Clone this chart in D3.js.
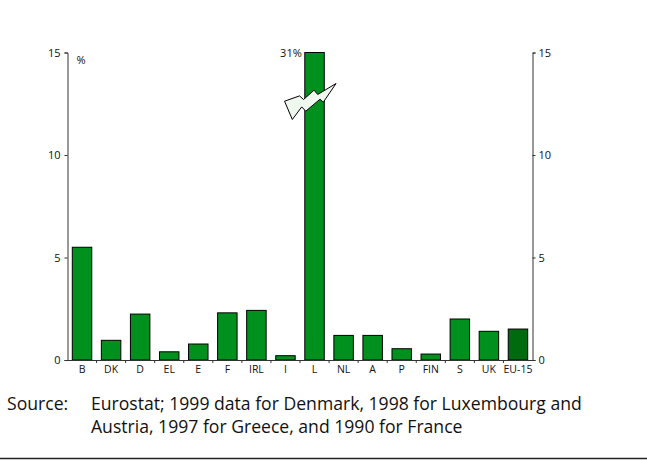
<!DOCTYPE html>
<html><head><meta charset="utf-8">
<script src="https://cdn.jsdelivr.net/npm/d3@7"></script>
<style>body{margin:0;background:#fff}svg{display:block}text{font-family:"Open Sans","Noto Sans",sans-serif;fill:#111}</style>
</head><body><svg id="c" width="647" height="460"></svg>
<script>
const categories = ["B","DK","D","EL","E","F","IRL","I","L","NL","A","P","FIN","S","UK","EU-15"];
const values = [5.5,0.96,2.24,0.4,0.78,2.3,2.42,0.21,31,1.2,1.2,0.55,0.29,2.0,1.4,1.51];
const yTicks = [0,5,10,15];
const yMax = 15;

(function(){
const svg = d3.select("#c");
const mL = 67.5, mR = 532.5, mT = 52.5, mB = 360;
const x = d3.scaleBand().domain(categories).range([mL,mR]).paddingInner(0.33).paddingOuter(0.165);
const y = d3.scaleLinear().domain([0,yMax]).range([mB,mT]);

svg.append("g").selectAll("rect").data(categories).join("rect")
  .attr("x",d=>x(d)).attr("width",x.bandwidth())
  .attr("y",(d,i)=>y(Math.min(values[i],yMax)))
  .attr("height",(d,i)=>mB-y(Math.min(values[i],yMax)))
  .attr("fill",d=>d==="EU-15"?"#006a0e":"#00901e")
  .attr("stroke","#000").attr("stroke-width",1);

const yl = d3.axisLeft(y).tickValues(yTicks).tickSize(3).tickPadding(4);
const yr = d3.axisRight(y).tickValues(yTicks).tickSize(3).tickPadding(3);
const xb = d3.axisBottom(x).tickSize(0).tickPadding(6);
const gl = svg.append("g").attr("transform",`translate(${mL},0)`).call(yl);
const gr = svg.append("g").attr("transform",`translate(${mR},0)`).call(yr);
const gb = svg.append("g").attr("transform",`translate(0,${mB})`).call(xb);
[gl,gr,gb].forEach(g=>{g.selectAll("text").attr("font-size",11).attr("font-family",null);g.selectAll("path,line").attr("stroke","#333");});
gb.selectAll("text").attr("font-size",10.5);
gb.append("g").selectAll("line").data(categories.slice(1)).join("line")
  .attr("x1",d=>x(d)-x.step()*x.paddingInner()/2).attr("x2",d=>x(d)-x.step()*x.paddingInner()/2)
  .attr("y1",0).attr("y2",3).attr("stroke","#333");

svg.append("text").attr("x",mL+9).attr("y",y(15)+11).attr("font-size",11).text("%");

const lx = x("L") + x.bandwidth()/2, ly = y(12.6);
svg.append("text").attr("x",x("L")-3).attr("y",y(15)+4).attr("text-anchor","end").attr("font-size",11).text(values[8]+"%");
const bolt = [[-30,-0.5],[-15,-5.8],[-11,-2.2],[-0.5,-11.5],[3.2,-7.2],[21.5,-18.2],[8.8,0.5],[5.5,-2.5],[-8.8,9.5],[-12.8,5.2],[-22.2,17.8]];
svg.append("polygon").attr("points",bolt.map(p=>[lx+p[0],ly+p[1]].join(",")).join(" "))
  .attr("fill","#eef8ee").attr("stroke","#000").attr("stroke-width",1);

const src = svg.append("g").attr("font-size",17.6);
src.append("text").attr("x",7).attr("y",410).text("Source:");
src.append("text").attr("x",91).attr("y",410).text("Eurostat; 1999 data for Denmark, 1998 for Luxembourg and");
src.append("text").attr("x",91).attr("y",433).text("Austria, 1997 for Greece, and 1990 for France");
svg.append("line").attr("x1",0).attr("x2",647).attr("y1",458.5).attr("y2",458.5).attr("stroke","#222").attr("stroke-width",1.5);
})();
</script></body></html>
